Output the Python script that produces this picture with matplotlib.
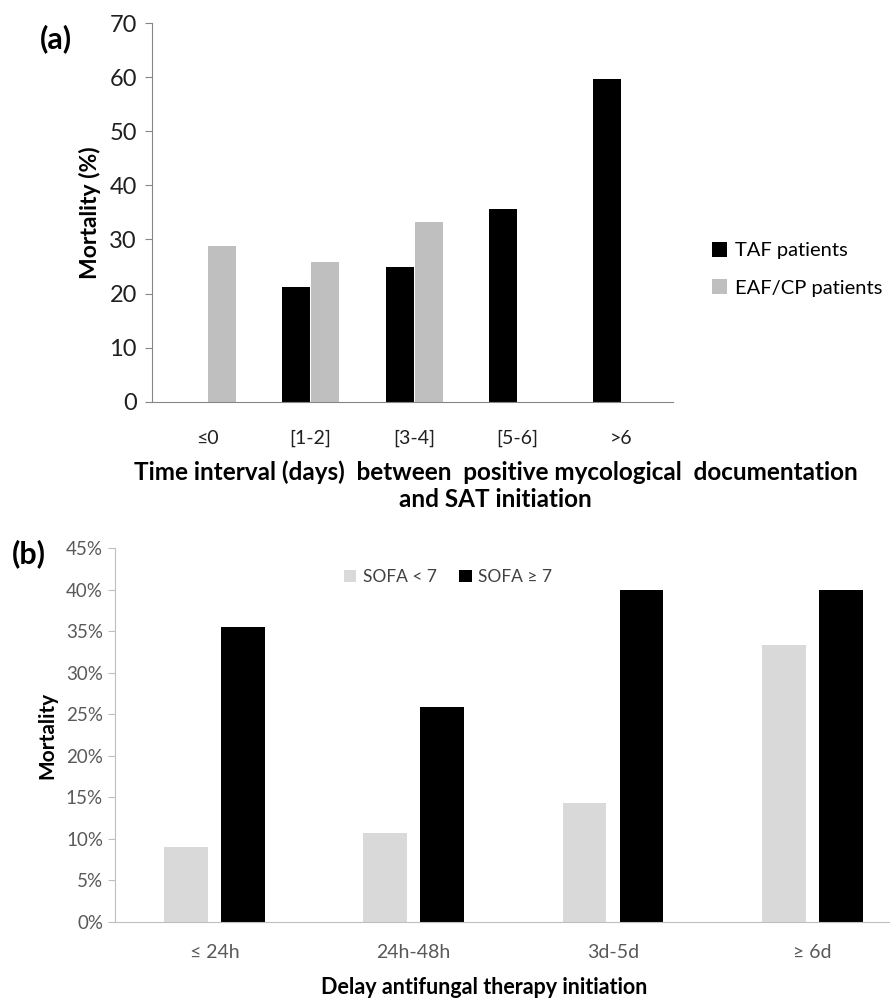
import numpy as np
import matplotlib
matplotlib.use("Agg")
import matplotlib.pyplot as plt

plt.rcParams['font.family'] = ['Lato', 'DejaVu Sans']

# panel (a)
intervals = ["≤0", "[1-2]", "[3-4]", "[5-6]", ">6"]
taf = [np.nan, 21.2, 25.0, 35.6, 59.7]
eaf = [28.8, 25.9, 33.3, np.nan, np.nan]

# panel (b)
delays = ["≤ 24h", "24h-48h", "3d-5d", "≥ 6d"]
sofa_low = [9.0, 10.7, 14.3, 33.3]
sofa_high = [35.5, 25.9, 40.0, 40.0]


def style_axes(ax, line_color):
  for s in ("top", "right"):
    ax.spines[s].set_visible(False)
  ax.spines["left"].set_color(line_color)
  ax.spines["bottom"].set_color(line_color)
  ax.tick_params(axis="y", length=5, color=line_color)
  ax.tick_params(axis="x", length=0)


fig = plt.figure(figsize=(8.9, 10.02), dpi=100)

# ---- (a)
ax1 = fig.add_axes([0.171, 0.599, 0.585, 0.378])
x = np.arange(len(intervals))
w = 0.27
ax1.bar(x - 0.14, taf, w, color="black", label="TAF patients")
ax1.bar(x + 0.14, eaf, w, color="#bfbfbf", label="EAF/CP patients")
ax1.set_xlim(-0.53, 4.5)
ax1.set_ylim(0, 70)
ax1.set_yticks(range(0, 71, 10))
ax1.set_xticks(x)
ax1.set_xticklabels(intervals, fontsize=14)
ax1.tick_params(axis="y", labelsize=17, labelcolor="#202020", pad=6)
ax1.tick_params(axis="x", pad=20, labelcolor="#202020")
style_axes(ax1, "#868686")
ax1.set_ylabel("Mortality (%)", fontsize=16.5, fontweight="bold", labelpad=6)
ax1.set_xlabel("Time interval (days)  between  positive mycological  documentation\nand SAT initiation",
               fontsize=17.5, fontweight="bold", linespacing=1.2, va="top")
ax1.xaxis.set_label_coords(0.66, -0.155)
ax1.legend(loc="center left", bbox_to_anchor=(1.04, 0.35), frameon=False,
           fontsize=14.5, handlelength=0.75, handleheight=0.75, handletextpad=0.4,
           labelspacing=1.0)
fig.text(0.045, 0.952, "(a)", fontsize=22, fontweight="bold")

# ---- (b)
ax2 = fig.add_axes([0.129, 0.080, 0.871, 0.373])
xb = np.arange(len(delays))
wb = 0.22
ax2.bar(xb - 0.143, sofa_low, wb, color="#d9d9d9", label="SOFA < 7")
ax2.bar(xb + 0.143, sofa_high, wb, color="black", label="SOFA ≥ 7")
ax2.set_xlim(-0.5, 3.39)
ax2.set_ylim(0, 45)
ax2.set_yticks(range(0, 46, 5))
ax2.set_yticklabels([f"{v}%" for v in range(0, 46, 5)])
ax2.set_xticks(xb)
ax2.set_xticklabels(delays, fontsize=14)
ax2.tick_params(axis="y", labelsize=13.5, labelcolor="#595959")
ax2.tick_params(axis="x", pad=16, labelcolor="#595959")
style_axes(ax2, "#bfbfbf")
ax2.set_ylabel("Mortality", fontsize=15, fontweight="bold", labelpad=6)
ax2.set_xlabel("Delay antifungal therapy initiation", fontsize=15.5,
               fontweight="bold", va="center")
ax2.xaxis.set_label_coords(0.476, -0.175)
ax2.legend(loc="upper center", bbox_to_anchor=(0.43, 0.985), ncol=2,
           frameon=False, fontsize=12.5, handlelength=0.7, handleheight=0.7,
           handletextpad=0.4, columnspacing=1.3, labelcolor="#404040")
fig.text(0.013, 0.438, "(b)", fontsize=22, fontweight="bold")

fig.savefig("out.png", dpi=100, facecolor="white")
